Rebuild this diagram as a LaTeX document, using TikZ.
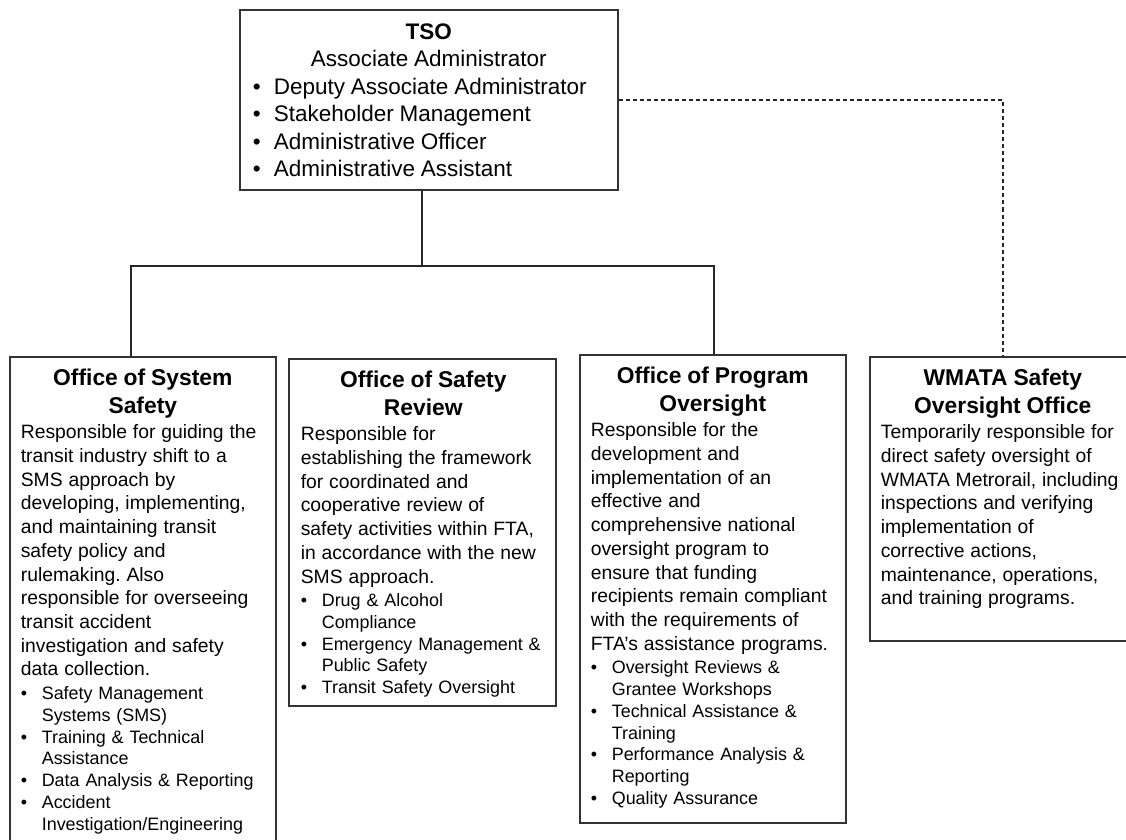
\documentclass[tikz,border=0pt]{standalone}
\usepackage{fontspec}
\setmainfont{Liberation Sans}
\usetikzlibrary{fit}
\frenchspacing

% fonts for the boxes
\newcommand\ttlfnt{\bfseries\fontsize{13}{15.8}\selectfont}
\newcommand\bodyfnt{\fontsize{11}{13.5}\selectfont}
\newcommand\bulfnt{\fontsize{10.2}{12.4}\selectfont}
\newcommand\tsofnt{\fontsize{12.8}{15.6}\selectfont}
% bullet line with hanging indent
\newcommand\bitem[1]{\par\hangindent=0.42cm\hangafter=1\noindent\makebox[0.42cm][l]{\textbullet}#1\par}

\tikzset{
  orgbox/.style={draw=black!80, line width=0.6pt, inner sep=0pt},
  boxtext/.style={anchor=base west, inner sep=0pt, align=left},
  link/.style={draw=black!85, line width=0.6pt},
}

\begin{document}
\begin{tikzpicture}[x=0.02cm,y=-0.02cm]

\useasboundingbox (0,0) rectangle (1126,839);
\fill[white] (0,0) rectangle (1126,839);

%BOXES
\node[orgbox, fit={(240,10) (618,190)}] (tso) {};
\node[orgbox, fit={(10,357) (276,870)}] (sys) {};
\node[orgbox, fit={(289,359) (556,706)}] (rev) {};
\node[orgbox, fit={(580,355) (846,823)}] (prog) {};
\node[orgbox, fit={(870,357) (1136,641)}] (wmata) {};

%CONNECTORS
\coordinate (busL) at (131,266);
\coordinate (busM) at (422,266);
\coordinate (busR) at (714,266);
% solid lines
\draw[link] (tso.south -| busM) -- (busM);
\draw[link] (sys.north -| busL) -- (busL) -- (busR) -- (busR |- prog.north);
% dashed line
\draw[link, dash pattern=on 2.3pt off 1.7pt] (tso.east) -| (wmata.north);

%TEXT
% top box
\node[boxtext, text width=7.04cm] (tsotxt) at ([shift={(13,30)}]tso.north west) {%
{\tsofnt\centering\textbf{TSO}\\ Associate Administrator\par}
{\tsofnt
\bitem{Deputy Associate Administrator}
\bitem{Stakeholder Management}
\bitem{Administrative Officer}
\bitem{Administrative Assistant}}};

% system safety
\node[boxtext, text width=4.88cm] (systxt) at ([shift={(11,29)}]sys.north west) {%
{\ttlfnt\centering Office of System\\ Safety\par}
{\bodyfnt\vspace{1pt}Responsible for guiding the\\ transit industry shift to a\\ SMS approach by\\
developing, implementing,\\ and maintaining transit\\ safety policy and\\ rulemaking. Also\\
responsible for overseeing\\ transit accident\\ investigation and safety\\ data collection.\par}
{\bulfnt\vspace{1pt}
\bitem{Safety Management\newline Systems (SMS)}
\bitem{Training \& Technical\newline Assistance}
\bitem{Data Analysis \& Reporting}
\bitem{Accident\newline Investigation/Engineering}}};

% safety review
\node[boxtext, text width=4.9cm] (revtxt) at ([shift={(12,29)}]rev.north west) {%
{\ttlfnt\centering Office of Safety\\ Review\par}
{\bodyfnt\vspace{1pt}Responsible for\\ establishing the framework\\ for coordinated and\\
cooperative review of\\ safety activities within FTA,\\ in accordance with the new\\ SMS approach.\par}
{\bulfnt\vspace{1pt}
\bitem{Drug \& Alcohol\newline Compliance}
\bitem{Emergency Management \&\newline Public Safety}
\bitem{Transit Safety Oversight}}};

% program oversight
\node[boxtext, text width=4.88cm] (progtxt) at ([shift={(11,29)}]prog.north west) {%
{\ttlfnt\centering Office of Program\\ Oversight\par}
{\bodyfnt\vspace{1pt}Responsible for the\\ development and\\ implementation of an\\ effective and\\
comprehensive national\\ oversight program to\\ ensure that funding\\
recipients remain compliant\\ with the requirements of\\ FTA’s assistance programs.\par}
{\bulfnt\vspace{1pt}
\bitem{Oversight Reviews \&\newline Grantee Workshops}
\bitem{Technical Assistance \&\newline Training}
\bitem{Performance Analysis \&\newline Reporting}
\bitem{Quality Assurance}}};

% wmata
\node[boxtext, text width=4.88cm] (wmatatxt) at ([shift={(11,29)}]wmata.north west) {%
{\ttlfnt\centering WMATA Safety\\ Oversight Office\par}
{\bodyfnt\vspace{1pt}Temporarily responsible for\\ direct safety oversight of\\ WMATA Metrorail, including\\
inspections and verifying\\ implementation of\\ corrective actions,\\
maintenance, operations,\\ and training programs.\par}};

\end{tikzpicture}
\end{document}
